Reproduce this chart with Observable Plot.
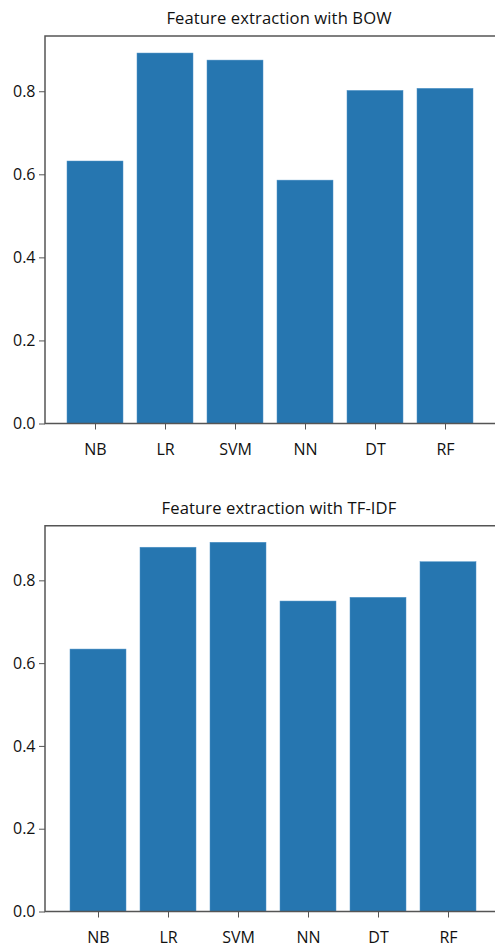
<!DOCTYPE html>
<html>
<head>
<meta charset="utf-8">
<script src="https://cdn.jsdelivr.net/npm/d3@7"></script>
<script src="https://cdn.jsdelivr.net/npm/@observablehq/plot@0.6"></script>
<style>
  html, body { margin: 0; padding: 0; background: #fff; overflow: hidden; }
  #root { position: relative; width: 495px; height: 947px; overflow: hidden; font-family: "Open Sans", sans-serif; }
  .title { position: absolute; left: 279px; transform: translateX(-50%); white-space: nowrap; font-size: 16.6px; letter-spacing: 0.1px; line-height: 20px; color: #111; }
  .chart { position: absolute; left: 0; width: 495px; overflow: hidden; }
  .chart svg { display: block; max-width: none !important; }
</style>
</head>
<body>
<div id="root"></div>
<script>
const models = ["NB", "LR", "SVM", "NN", "DT", "RF"];
const bowScores = [0.632, 0.892, 0.875, 0.586, 0.802, 0.807];
const tfidfScores = [0.634, 0.880, 0.892, 0.750, 0.759, 0.845];
const yTicks = [0, 0.2, 0.4, 0.6, 0.8];
const chartTitles = ["Feature extraction with BOW", "Feature extraction with TF-IDF"];

const barColor = "#2676b0";
const spine = "#555";

// left, top and bottom spines (the right spine lies outside the picture)
function spines(index, scales, values, dim) {
  const g = d3.create("svg:g").attr("stroke", spine).attr("stroke-width", 1.5).attr("fill", "none");
  const x0 = dim.marginLeft, x1 = dim.width + 5;
  const y0 = dim.marginTop, y1 = dim.height - dim.marginBottom;
  g.append("path").attr("d", `M${x1},${y0}H${x0}V${y1}H${x1}`);
  return g.node();
}

function makeChart(scores, opts) {
  const data = models.map((m, i) => ({model: m, score: scores[i]}));
  return Plot.plot({
    width: opts.width,
    height: opts.height,
    marginLeft: 45,
    marginRight: 0,
    marginTop: opts.marginTop,
    marginBottom: opts.marginBottom,
    style: {fontFamily: "'Open Sans', sans-serif", fontSize: "16px", color: "#111", background: "#fff"},
    x: {domain: models, paddingInner: 0.2, paddingOuter: opts.padOuter, label: null},
    y: {domain: [0, opts.yMax], label: null},
    marks: [
      Plot.barY(data, {x: "model", y: "score", fill: barColor, stroke: "#4f93c8", strokeWidth: 0.5}),
      spines,
      Plot.axisX({tickSize: 6, tickPadding: 14, stroke: spine, fontSize: 16}),
      Plot.axisY({ticks: yTicks, tickFormat: d3.format(".1f"), tickSize: 6, tickPadding: 4, stroke: spine, fontSize: 16})
    ]
  });
}

const root = document.getElementById("root");

function addChart(title, scores, top, titleTop, opts) {
  const wrap = document.createElement("div");
  wrap.className = "chart";
  wrap.style.top = top + "px";
  wrap.appendChild(makeChart(scores, opts));
  root.appendChild(wrap);
  const t = document.createElement("div");
  t.className = "title";
  t.style.top = titleTop + "px";
  t.textContent = title;
  root.appendChild(t);
}

// top chart: axis spans y 36 -> 423.5
addChart(chartTitles[0], bowScores, 0, 7.5, {width: 495, height: 470, marginTop: 36, marginBottom: 46.5, yMax: 0.933, padOuter: 0.3});
// bottom chart: axis spans y 525.7 -> 911.5
addChart(chartTitles[1], tfidfScores, 490, 497.5, {width: 501, height: 457, marginTop: 35.7, marginBottom: 35.5, yMax: 0.932, padOuter: 0.32});
</script>
</body>
</html>
